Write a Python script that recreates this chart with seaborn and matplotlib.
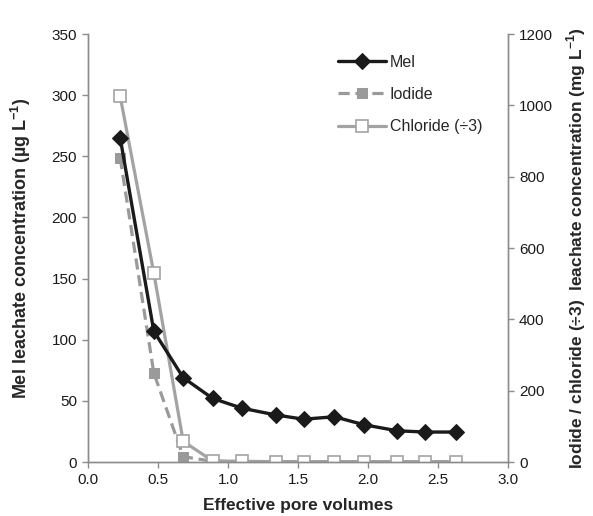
import matplotlib
matplotlib.use("Agg")
import matplotlib.pyplot as plt
import seaborn as sns
import pandas as pd

pore_volumes = [0.23, 0.47, 0.68, 0.89, 1.10, 1.34, 1.54, 1.76, 1.97, 2.21, 2.41, 2.63]
mel = [265, 107, 69, 52, 44, 38.5, 35, 37, 30.5, 25.5, 24.5, 24.5]
iodide = [852, 250, 15, 2, 1, 1, 1, 1, 1, 1, 1, 1]
chloride = [1025, 530, 58, 3, 2, 1, 1, 1, 1, 1, 1, 1]

sns.set_style("white")
plt.rcParams['font.family'] = ['Liberation Sans', 'DejaVu Sans']

df = pd.DataFrame({"pv": pore_volumes, "Mel": mel, "Iodide": iodide, "Chloride": chloride})

fig = plt.figure(figsize=(5.93, 5.16), dpi=100)
ax = fig.add_axes([88/593, 1 - 462/516, 420/593, 428/516])
ax2 = ax.twinx()

sns.lineplot(data=df, x="pv", y="Iodide", ax=ax2, color="#9a9a9a", lw=2.3,
             linestyle=(0, (3.5, 1.8)), marker="s", markersize=7.5, markeredgecolor="#9a9a9a",
             label="Iodide", legend=False)
sns.lineplot(data=df, x="pv", y="Chloride", ax=ax2, color="#a3a3a3", lw=2.3,
             marker="s", markersize=8.5, markerfacecolor="white", markeredgecolor="#a3a3a3",
             markeredgewidth=1.2, label="Chloride (\u00f73)", legend=False)
sns.lineplot(data=df, x="pv", y="Mel", ax=ax, color="#1a1a1a", lw=2.4,
             marker="D", markersize=7.8, markeredgecolor="#1a1a1a", label="Mel", legend=False)

ax.set_zorder(ax2.get_zorder() + 1)
ax.patch.set_visible(False)

ax.set_xlim(0, 3.0)
ax.set_ylim(0, 350)
ax2.set_ylim(0, 1200)
ax.set_xticks([0, 0.5, 1.0, 1.5, 2.0, 2.5, 3.0])
ax.set_xticklabels(["0.0", "0.5", "1.0", "1.5", "2.0", "2.5", "3.0"])
ax.set_yticks(range(0, 351, 50))
ax2.set_yticks(range(0, 1201, 200))

for a in (ax, ax2):
    for s in a.spines.values():
        s.set_color("#8c8c8c")
        s.set_linewidth(1.0)
    a.spines["top"].set_visible(False)
    a.tick_params(labelsize=11, colors="#8c8c8c", labelcolor="#1a1a1a", length=4, width=1,
                  direction="out", pad=4)
ax.tick_params(axis="y", left=True)
ax.tick_params(axis="x", bottom=True)
ax2.tick_params(axis="y", right=True)

ax.set_xlabel("Effective pore volumes", fontsize=12.5, fontweight="bold", labelpad=8)
ax.set_ylabel("Mel leachate concentration (\u00b5g L$^{\\mathregular{-1}}$)", fontsize=13,
              fontweight="bold", labelpad=13)
ax2.set_ylabel("Iodide / chloride (\u00f73)  leachate concentration (mg L$^{\\mathregular{-1}}$)",
               fontsize=12.5, fontweight="bold", labelpad=8)

h1, l1 = ax.get_legend_handles_labels()
h2, l2 = ax2.get_legend_handles_labels()
ax.legend(h1 + h2, l1 + l2, loc="upper left", bbox_to_anchor=(0.595, 0.951), frameon=False,
          fontsize=11.5, handlelength=3.0, labelspacing=1.07, handletextpad=0.25,
          borderpad=0, borderaxespad=0)

fig.savefig("out.png", dpi=100)
